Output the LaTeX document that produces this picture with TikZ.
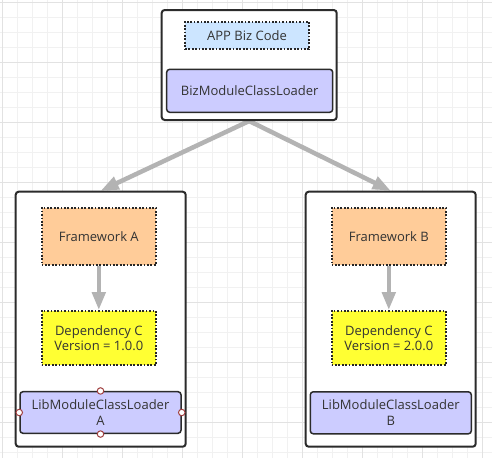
\documentclass[tikz,border=0pt]{standalone}
\usepackage{fontspec}
\setmainfont{Open Sans}
\usetikzlibrary{arrows.meta,backgrounds}
\definecolor{gridminor}{HTML}{F1F1F1}
\definecolor{gridmajor}{HTML}{E2E2E2}
\definecolor{txt}{HTML}{333333}
\definecolor{edge}{HTML}{2B2B2B}
\definecolor{lilac}{HTML}{CCCCFF}
\definecolor{skyblue}{HTML}{CCE5FF}
\definecolor{peach}{HTML}{FFCC99}
\definecolor{lemon}{HTML}{FFFF33}
\definecolor{arrowgray}{HTML}{B3B3B3}
\definecolor{handle}{HTML}{A04040}
\begin{document}
\begin{tikzpicture}[x=1pt,y=-1pt,
  every node/.style={text=txt, font=\fontsize{13}{15.5}\selectfont, inner sep=0pt, align=center},
  container/.style={draw=edge, line width=2pt, fill=white, rounded corners=3pt},
  loader/.style={draw=edge, line width=1.5pt, fill=lilac, rounded corners=3pt},
  dotbox/.style={draw=black!85, line width=1.7pt, dash pattern=on 1.7pt off 1.7pt},
  flow/.style={draw=arrowgray, line width=4.5pt, -{Triangle[length=18pt,width=13pt]}},
  grip/.style={circle, draw=handle, fill=white, line width=1pt, minimum size=6.5pt}]
\useasboundingbox (0,0) rectangle (492,458);

% containers
\node[container, minimum width=175pt, minimum height=110pt] (top) at (249.2,65) {};
\node[container, minimum width=170pt, minimum height=255pt] (boxA) at (100.7,319.2) {};
\node[container, minimum width=170pt, minimum height=255pt] (boxB) at (390.7,319.2) {};

% top content
\node[dotbox, fill=skyblue, minimum width=124pt, minimum height=27.6pt] (app) at (247,35.5) {APP Biz Code};
\node[loader, minimum width=166pt, minimum height=43pt] (biz) at (249.7,90.8) {BizModuleClassLoader};

% left content
\node[dotbox, fill=peach, minimum width=114.3pt, minimum height=57.3pt] (fwA) at (98.8,236.3) {Framework A};
\node[dotbox, fill=lemon, minimum width=114.3pt, minimum height=54pt] (depA) at (98.8,338) {Dependency C\\Version = 1.0.0};
\node[loader, minimum width=161pt, minimum height=41.6pt] (libA) at (100.5,412.5) {LibModuleClassLoader\\A};

% right content
\node[dotbox, fill=peach, minimum width=114.3pt, minimum height=57.3pt] (fwB) at (388.8,236.3) {Framework B};
\node[dotbox, fill=lemon, minimum width=114.3pt, minimum height=54pt] (depB) at (388.8,338) {Dependency C\\Version = 2.0.0};
\node[loader, minimum width=161pt, minimum height=42pt] (libB) at (390.8,412.8) {LibModuleClassLoader\\B};

% inner arrows
\draw[flow] (fwA) -- (depA);
\draw[flow] (fwB) -- (depB);

% selection handles
\node[grip] (hN) at (libA.north) {};
\node[grip] (hS) at (libA.south) {};
\node[grip] (hW) at (libA.west) {};
\node[grip] (hE) at (libA.east) {};

\begin{scope}[on background layer]
  \fill[white] (0,0) rectangle (492,458);
  \foreach \gx in {2.3,17.3,...,492} \draw[gridminor, line width=1pt] (\gx,0) -- (\gx,458);
  \foreach \gy in {2.3,17.3,...,458} \draw[gridminor, line width=1pt] (0,\gy) -- (492,\gy);
  \foreach \gx in {2.3,62.3,...,492} \draw[gridmajor, line width=1pt] (\gx,0) -- (\gx,458);
  \foreach \gy in {2.3,62.3,...,458} \draw[gridmajor, line width=1pt] (0,\gy) -- (492,\gy);
  \draw[flow] (top.south) -- (boxA.north);
  \draw[flow] (top.south) -- (boxB.north);
\end{scope}
\end{tikzpicture}
\end{document}
